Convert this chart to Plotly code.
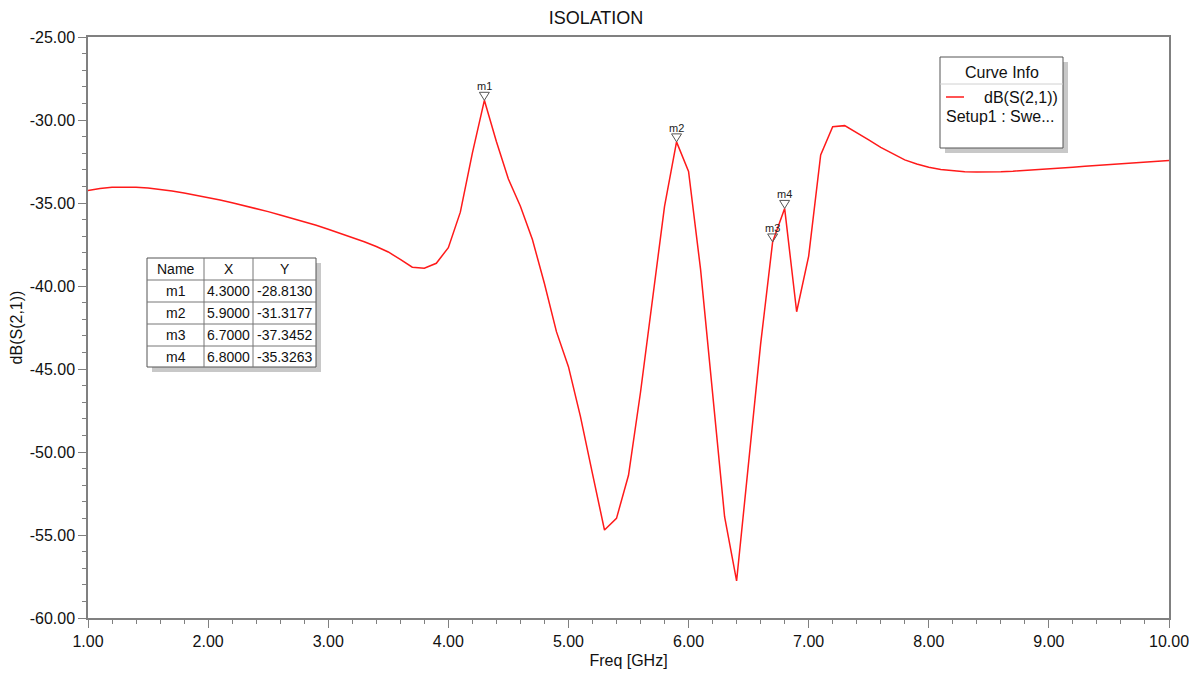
import plotly.graph_objects as go

# ---------------- data ----------------
freq_ghz = [round(1.0 + 0.1 * i, 1) for i in range(91)]
db_s21 = [
    -34.25, -34.12, -34.05, -34.03, -34.05, -34.10, -34.18, -34.28, -34.40, -34.53,  # 1.0-1.9
    -34.67, -34.82, -34.98, -35.15, -35.33, -35.52, -35.72, -35.92, -36.13, -36.34,  # 2.0-2.9
    -36.58, -36.82, -37.07, -37.33, -37.62, -37.95, -38.40, -38.87, -38.93, -38.63,  # 3.0-3.9
    -37.69, -35.55, -32.00, -28.813, -31.30, -33.55, -35.20, -37.20, -39.85, -42.75,  # 4.0-4.9
    -44.86, -47.87, -51.30, -54.70, -54.00, -51.40, -46.40, -40.70, -35.20, -31.3177,  # 5.0-5.9
    -33.10, -39.00, -46.50, -53.90, -57.77, -50.60, -43.50, -37.3452, -35.3263, -41.55,  # 6.0-6.9
    -38.20, -32.10, -30.40, -30.34, -30.75, -31.20, -31.65, -32.05, -32.40, -32.65,  # 7.0-7.9
    -32.85, -32.98, -33.06, -33.11, -33.13, -33.13, -33.11, -33.08, -33.04, -32.99,  # 8.0-8.9
    -32.94, -32.89, -32.84, -32.79, -32.74, -32.69, -32.64, -32.59, -32.54, -32.49,  # 9.0-9.9
    -32.44,                                                                           # 10.0
]

marker_names = ["m1", "m2", "m3", "m4"]
marker_x = [4.3000, 5.9000, 6.7000, 6.8000]
marker_y = [-28.8130, -31.3177, -37.3452, -35.3263]

table_header = ["Name", "X", "Y"]

x_tick_vals = [1, 2, 3, 4, 5, 6, 7, 8, 9, 10]
y_tick_vals = [-60, -55, -50, -45, -40, -35, -30, -25]

title_text = "ISOLATION"
x_title = "Freq [GHz]"
y_title = "dB(S(2,1))"
legend_title = "Curve Info"
legend_trace = "dB(S(2,1))"
legend_setup = "Setup1 : Swe..."

# ---------------- layout helpers ----------------
OFF = 8  # page body margin
W, H = 1197 - OFF, 675 - OFF
# plot-area edges in page pixels
L_pg, R_pg, T_pg, B_pg = 88, 1169, 37, 618
L, R, T, B = L_pg - OFF, R_pg - OFF, T_pg - OFF, B_pg - OFF
FONT = "Liberation Sans, Arial, sans-serif"
TXT = "#111111"


def px(xp):
    return (xp - L_pg) / (R_pg - L_pg)


def py(yp):
    return (B_pg - yp) / (B_pg - T_pg)


fig = go.Figure()
fig.add_trace(go.Scatter(
    x=freq_ghz, y=db_s21, mode="lines",
    line=dict(color="#ff1a1a", width=1.5),
    hoverinfo="x+y", showlegend=False,
))

shapes = []
annotations = []

# marker triangles and labels
for name, mx, my in zip(marker_names, marker_x, marker_y):
    shapes.append(dict(
        type="path", xref="x", yref="y",
        xsizemode="pixel", ysizemode="pixel",
        xanchor=mx, yanchor=my,
        path="M -5,8 L 5,8 L 0,0 Z",
        line=dict(color="#555555", width=1),
        fillcolor="rgba(255,255,255,0)",
    ))
    annotations.append(dict(
        x=mx, y=my, xref="x", yref="y", text=name, showarrow=False,
        yshift=14, font=dict(family=FONT, size=11, color="#222222"),
    ))

# ---------- marker table ----------
col_edges = [147, 204, 253, 316]
row_edges = [258, 280, 302, 324, 346, 367]
tx0, tx1 = col_edges[0], col_edges[-1]
shapes.append(dict(type="rect", xref="paper", yref="paper",
                   x0=px(tx0 + 5), x1=px(tx1 + 5), y0=py(row_edges[-1] + 5), y1=py(row_edges[0] + 5),
                   line=dict(width=0), fillcolor="#c8c8c8", layer="above"))
shapes.append(dict(type="rect", xref="paper", yref="paper",
                   x0=px(tx0), x1=px(tx1), y0=py(row_edges[-1]), y1=py(row_edges[0]),
                   line=dict(color="#555555", width=1), fillcolor="white", layer="above"))
for ce in col_edges[1:-1]:
    shapes.append(dict(type="line", xref="paper", yref="paper",
                       x0=px(ce), x1=px(ce), y0=py(row_edges[-1]), y1=py(row_edges[0]),
                       line=dict(color="#777777", width=1), layer="above"))
for re in row_edges[1:-1]:
    shapes.append(dict(type="line", xref="paper", yref="paper",
                       x0=px(tx0), x1=px(tx1), y0=py(re), y1=py(re),
                       line=dict(color="#777777", width=1), layer="above"))

rows = [table_header] + [[n, f"{x:.4f}", f"{y:.4f}"] for n, x, y in zip(marker_names, marker_x, marker_y)]
for ri, row in enumerate(rows):
    yc = (row_edges[ri] + row_edges[ri + 1]) / 2
    for ci, cell in enumerate(row):
        xc = (col_edges[ci] + col_edges[ci + 1]) / 2
        annotations.append(dict(x=px(xc), y=py(yc), xref="paper", yref="paper",
                                text=cell, showarrow=False, xanchor="center", yanchor="middle",
                                font=dict(family=FONT, size=14, color=TXT)))

# ---------- curve info box ----------
lx0, lx1, ly0, ly1 = 940, 1063, 57, 148
shapes.append(dict(type="rect", xref="paper", yref="paper",
                   x0=px(lx0 + 5), x1=px(lx1 + 5), y0=py(ly1 + 5), y1=py(ly0 + 5),
                   line=dict(width=0), fillcolor="#c8c8c8", layer="above"))
shapes.append(dict(type="rect", xref="paper", yref="paper",
                   x0=px(lx0), x1=px(lx1), y0=py(ly1), y1=py(ly0),
                   line=dict(color="#555555", width=1), fillcolor="white", layer="above"))
shapes.append(dict(type="line", xref="paper", yref="paper",
                   x0=px(lx0), x1=px(lx1), y0=py(84), y1=py(84),
                   line=dict(color="#d0d0d0", width=1), layer="above"))
shapes.append(dict(type="line", xref="paper", yref="paper",
                   x0=px(946), x1=px(964), y0=py(97), y1=py(97),
                   line=dict(color="#ff1a1a", width=1.5), layer="above"))
annotations.append(dict(x=px((lx0 + lx1) / 2), y=py(73), xref="paper", yref="paper",
                        text=legend_title, showarrow=False, xanchor="center", yanchor="middle",
                        font=dict(family=FONT, size=16, color=TXT)))
annotations.append(dict(x=px(1060), y=py(97), xref="paper", yref="paper",
                        text=legend_trace, showarrow=False, xanchor="right", yanchor="middle",
                        font=dict(family=FONT, size=16, color=TXT)))
annotations.append(dict(x=px(944), y=py(116), xref="paper", yref="paper",
                        text=legend_setup, showarrow=False, xanchor="left", yanchor="middle",
                        font=dict(family=FONT, size=16, color=TXT)))

axis_common = dict(
    showgrid=False, zeroline=False, automargin=False,
    showline=True, linecolor="#808080", linewidth=1.5, mirror=True,
    ticks="outside", ticklen=8, tickcolor="#808080", tickwidth=1,
    tickfont=dict(family=FONT, size=16, color=TXT),
)

fig.update_layout(
    width=W, height=H,
    margin=dict(l=L, r=W - R, t=T, b=H - B, autoexpand=False),
    paper_bgcolor="white", plot_bgcolor="white",
    title=dict(text=title_text, x=(596 - OFF) / W, xanchor="center", y=1 - (18 - OFF) / H, yanchor="middle",
               font=dict(family=FONT, size=18, color=TXT)),
    xaxis=dict(range=[1, 10],
               tickmode="array", tickvals=x_tick_vals, ticktext=[f"{v:.2f}" for v in x_tick_vals],
               minor=dict(ticks="outside", ticklen=4, dtick=0.2, tickcolor="#808080"),
               title=dict(text=x_title, standoff=6, font=dict(family=FONT, size=16, color=TXT)),
               **axis_common),
    yaxis=dict(range=[-60, -25],
               tickmode="array", tickvals=y_tick_vals, ticktext=[f"{v:.2f}" for v in y_tick_vals],
               minor=dict(ticks="outside", ticklen=4, dtick=1, tickcolor="#808080"),
               title=dict(text=y_title, standoff=6, font=dict(family=FONT, size=16, color=TXT)),
               **axis_common),
    shapes=shapes,
    annotations=annotations,
    showlegend=False,
)

fig.write_html("out.html")
